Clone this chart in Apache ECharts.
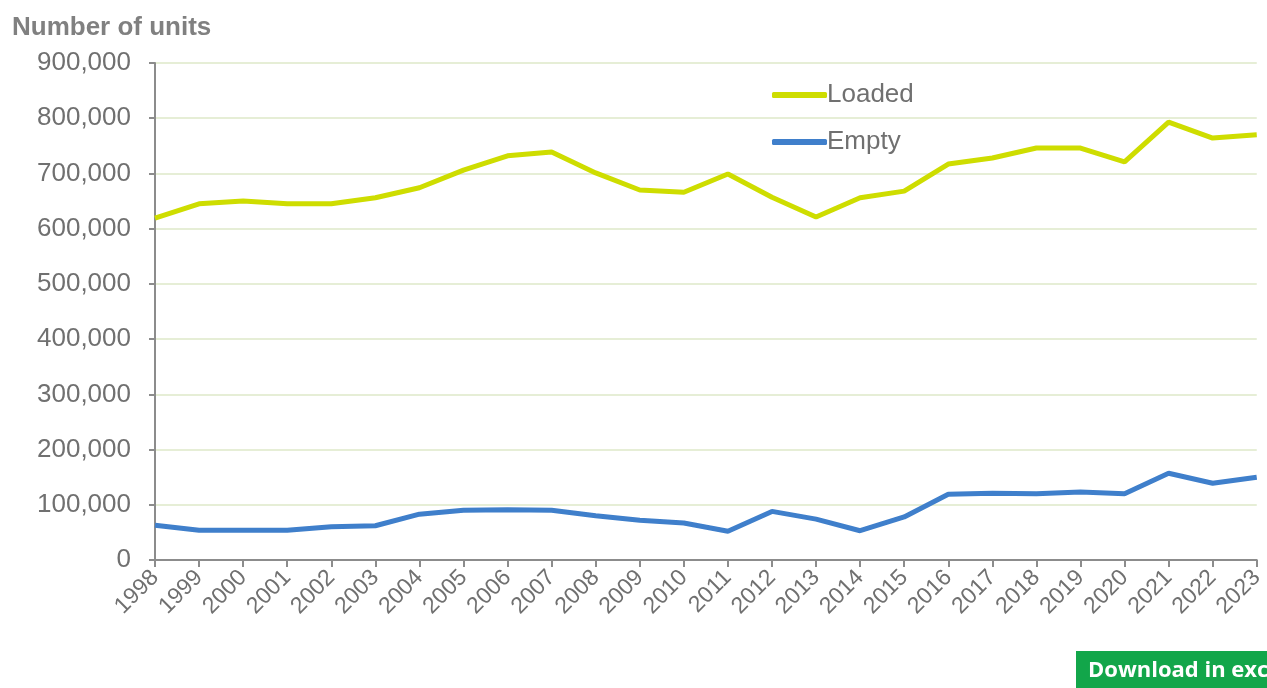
<!DOCTYPE html>
<html><head><meta charset="utf-8">
<script src="https://cdn.jsdelivr.net/npm/echarts@6/dist/echarts.min.js"></script>
<style>html,body{margin:0;padding:0;background:#fff}#c{width:1267px;height:688px}</style>
</head><body><div id="c"></div>
<script>
const years = ['1998','1999','2000','2001','2002','2003','2004','2005','2006','2007','2008','2009','2010','2011','2012','2013','2014','2015','2016','2017','2018','2019','2020','2021','2022','2023'];
const loaded = [619000,645000,650000,645000,645000,656000,674000,706000,732000,739000,701000,670000,666000,699000,657000,621000,656000,668000,717000,728000,746000,746000,721000,793000,764000,770000];
const empty = [63000,54000,54000,54000,60000,62000,83000,90000,91000,90000,80000,72000,67000,52000,88000,74000,53000,78000,119000,121000,120000,123000,120000,157000,139000,150000];

const chart = echarts.init(document.getElementById('c'));
const font = 'Liberation Sans, Arial, sans-serif';
chart.setOption({
  animation:false,
  textStyle:{fontFamily:font},
  grid:{left:155,right:9,top:63,bottom:128,containLabel:false},
  title:{text:'Number of units',left:7,top:10,textStyle:{fontFamily:font,fontSize:26,fontWeight:'bold',color:'#808080'}},
  legend:{orient:'vertical',left:767,top:77,itemWidth:55,itemHeight:6,itemGap:21,icon:'roundRect',
    textStyle:{fontFamily:font,fontSize:26,color:'#707070',padding:[0,0,0,-5]},
    data:['Loaded','Empty']},
  xAxis:{type:'category',data:years,boundaryGap:false,
    axisLine:{lineStyle:{color:'#8c8c8c',width:2}},
    axisTick:{show:true,length:7,lineStyle:{color:'#8c8c8c',width:2}},
    axisLabel:{rotate:45,fontSize:23,color:'#707070',margin:14,fontFamily:font,interval:0}},
  yAxis:{type:'value',min:0,max:900000,interval:100000,
    axisLine:{show:true,lineStyle:{color:'#8c8c8c',width:2}},
    axisTick:{show:true,length:6,lineStyle:{color:'#8c8c8c',width:2}},
    splitLine:{lineStyle:{color:'#e6eed6',width:2}},
    axisLabel:{fontSize:26,color:'#707070',margin:24,fontFamily:font,
      formatter:v=>v.toLocaleString('en-US')}},
  series:[
    {name:'Loaded',type:'line',data:loaded,showSymbol:false,lineStyle:{color:'#cedd00',width:5},itemStyle:{color:'#cedd00'}},
    {name:'Empty',type:'line',data:empty,showSymbol:false,lineStyle:{color:'#3f7fcb',width:5},itemStyle:{color:'#3f7fcb'}}
  ],
  graphic:[
    {type:'rect',left:1076,top:651,shape:{width:200,height:40},style:{fill:'#12a64a'}},
    {type:'text',left:1088,top:660,style:{text:'Download in excel',fill:'#fff',font:'bold 22px "Open Sans", sans-serif'}}
  ]
});
</script></body></html>
